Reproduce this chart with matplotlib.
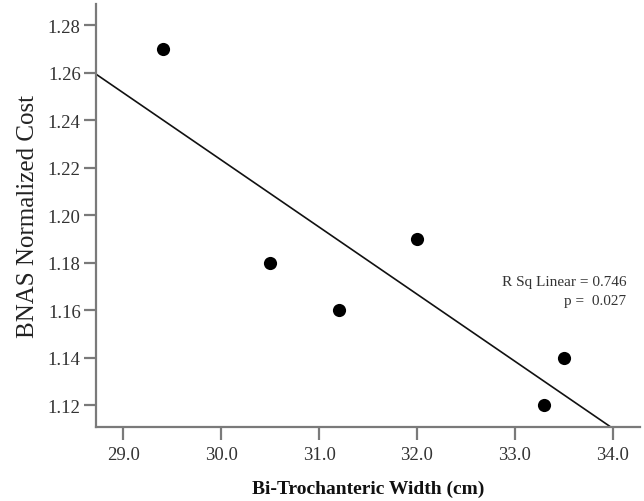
import matplotlib
matplotlib.use("Agg")
import matplotlib.pyplot as plt
import numpy as np
from matplotlib.ticker import FormatStrFormatter

# values
width_cm = [29.4, 30.5, 31.2, 32.0, 33.5, 33.3]
norm_cost = [1.27, 1.18, 1.16, 1.19, 1.14, 1.12]
x_ticks = [29.0, 30.0, 31.0, 32.0, 33.0, 34.0]
y_ticks = [1.12, 1.14, 1.16, 1.18, 1.20, 1.22, 1.24, 1.26, 1.28]
r_sq_text = "R Sq Linear = 0.746"
p_text = "p =  0.027"

plt.rcParams["font.family"] = ["Liberation Serif", "DejaVu Serif"]

fig = plt.figure(figsize=(6.44, 5.02), dpi=100)
ax = fig.add_axes([0.149, 0.148, 0.845, 0.842])

x = np.array(width_cm)
y = np.array(norm_cost)
slope, icpt = np.polyfit(x, y, 1)

xlim = (28.72, 34.28)
ylim = (1.111, 1.2889)
xx = np.array(xlim)
ax.plot(xx, slope * xx + icpt, color="#111111", lw=1.2, zorder=2)
ax.scatter(x, y, s=90, color="black", zorder=3, linewidths=0)

ax.set_xlim(*xlim)
ax.set_ylim(*ylim)
ax.set_xticks(x_ticks)
ax.set_yticks(y_ticks)
ax.xaxis.set_major_formatter(FormatStrFormatter("%.1f"))
ax.yaxis.set_major_formatter(FormatStrFormatter("%.2f"))

for side in ("top", "right"):
    ax.spines[side].set_visible(False)
for side in ("left", "bottom"):
    ax.spines[side].set_color("#7a7a7a")
    ax.spines[side].set_linewidth(1.6)

ax.tick_params(axis="both", colors="#333333", labelsize=13.5, width=1.6,
               length=9, direction="out")
ax.tick_params(axis="x", pad=5, color="#7a7a7a")
ax.tick_params(axis="y", pad=2, color="#7a7a7a")

ax.set_xlabel("Bi-Trochanteric Width (cm)", fontsize=14, fontweight="bold",
              labelpad=12, color="#111111")
ax.set_ylabel("BNAS Normalized Cost", fontsize=18, labelpad=6, color="#222222")

ax.text(0.975, 0.343, r_sq_text, transform=ax.transAxes, ha="right",
        va="center", fontsize=11, color="#333333")
ax.text(0.975, 0.298, p_text, transform=ax.transAxes, ha="right",
        va="center", fontsize=11, color="#333333")

fig.savefig("out.png", dpi=100)
